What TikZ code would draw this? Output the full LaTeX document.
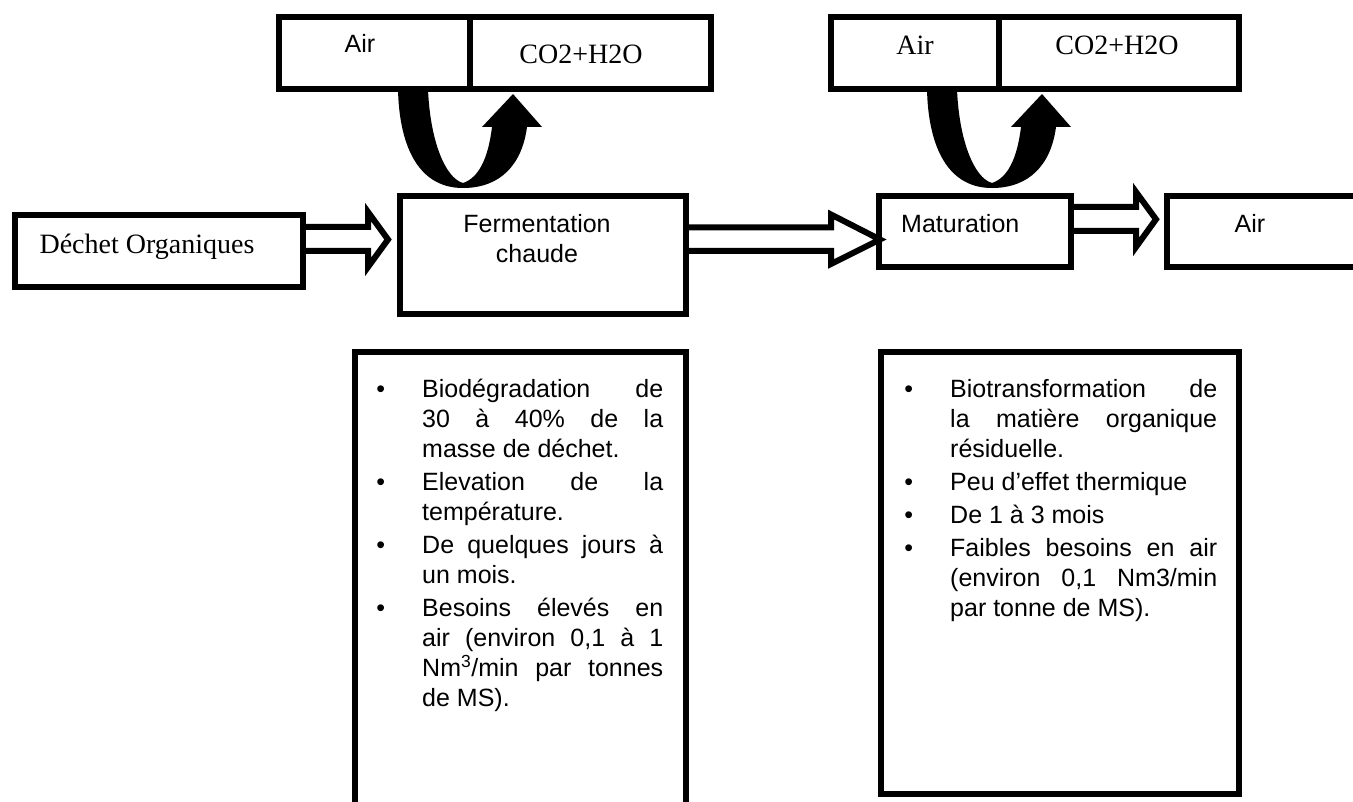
\documentclass[tikz,border=0pt]{standalone}
\usepackage{fontspec}
\setmainfont{Liberation Serif}
\setsansfont{Liberation Sans}
\usetikzlibrary{calc}

% puce des listes
\newcommand{\puce}{\par\noindent\llap{\textbullet\hspace{37pt}}}

\begin{document}
\begin{tikzpicture}[x=1pt, y=1pt,
    cell/.style={draw, line width=6pt, outer sep=0pt, inner sep=0pt},
    blockarrow/.style={draw, line width=6pt, line join=miter},
    loopfill/.style={fill=black},
    sanslbl/.style={font=\sffamily\fontsize{25pt}{30pt}\selectfont, inner sep=0pt},
    seriflbl/.style={font=\rmfamily\fontsize{28pt}{33pt}\selectfont, inner sep=0pt},
    notes/.style={font=\sffamily\fontsize{25pt}{30pt}\selectfont, inner sep=0pt, align=justify, anchor=north west}]
  \useasboundingbox (0,0) rectangle (1353,-802);
  % boites du haut
  \node[cell, minimum width=191pt, minimum height=71.5pt] (air1) at (374.5,-53.25) {};
  \node[cell, minimum width=241pt, minimum height=71.5pt] (gas1) at (590.5,-53.25) {};
  \node[cell, minimum width=168pt, minimum height=71.5pt] (air2) at (915,-53.25) {};
  \node[cell, minimum width=240pt, minimum height=71.5pt] (gas2) at (1119,-53.25) {};
  \node[sanslbl, anchor=base] (tair1) at (360,-53) {Air};
  \node[seriflbl, anchor=base] (tgas1) at (581,-64) {CO2+H2O};
  \node[seriflbl, anchor=base] (tair2) at (915,-55) {Air};
  \node[seriflbl, anchor=base] (tgas2) at (1117,-55) {CO2+H2O};
  % etapes du procede
  \node[cell, minimum width=287.5pt, minimum height=71.2pt] (dechet) at (158.75,-251.1) {};
  \node[cell, minimum width=286pt, minimum height=118.5pt] (ferm) at (543,-255.25) {};
  \node[cell, minimum width=192pt, minimum height=71.5pt] (matur) at (975,-231.75) {};
  \node[cell, minimum width=213pt, minimum height=71.5pt] (airout) at (1273.5,-231.75) {};
  \node[seriflbl, anchor=base] (tdechet) at (147,-253.3) {Déchet Organiques};
  \node[sanslbl, align=center, anchor=north] (tferm) at (537,-212.7) {\rule{0pt}{20pt}Fermentation\\chaude};
  \node[sanslbl, anchor=base west] (tmatur) at (901,-232.7) {Maturation};
  \node[sanslbl, anchor=base] (tairout) at (1250,-232.7) {Air};
  % fleches creuses
  \draw[blockarrow] let \p1=(dechet.east), \p2=(ferm.west) in
    (\x1,-227) -- (\x2-32,-227) -- (\x2-32,-212) -- (\x2-12,-239.5) -- (\x2-32,-267) -- (\x2-32,-251) -- (\x1,-251);
  \draw[blockarrow] let \p1=(ferm.east), \p2=(matur.west) in
    (\x1,-227.5) -- (\x2-48,-227.5) -- (\x2-48,-214.5) -- (\x2+1,-239.5) -- (\x2-48,-264) -- (\x2-48,-251) -- (\x1,-251);
  \draw[blockarrow] let \p1=(matur.east), \p2=(airout.west) in
    (\x1,-207) -- (\x2-31,-207) -- (\x2-31,-192) -- (\x2-11,-219.3) -- (\x2-31,-247) -- (\x2-31,-231) -- (\x1,-231);
  % fleches courbes (air entrant / gaz sortant)
  \foreach \dx in {0,529}{
    \fill[loopfill, xshift=\dx pt] (398,-89) .. controls (399,-140) and (415,-188) .. (463,-188)
      .. controls (500,-188) and (522,-165) .. (527,-127) -- (542,-127) -- (513,-94) -- (482,-127) -- (492,-127)
      .. controls (488,-160) and (478,-178) .. (463,-183)
      .. controls (445,-178) and (430,-140) .. (428,-89) -- cycle;
  }
  % cadres des commentaires
  \node[cell, minimum width=331pt, minimum height=478pt] (note1) at (520.5,-591) {};
  \node[cell, minimum width=358.5pt, minimum height=441.5pt] (note2) at (1059.75,-572.75) {};
  \node[notes, text width=241pt] (txt1) at (422,-364) {%
    \tolerance=10000 \hbadness=10000 \hyphenpenalty=10000 \parskip=3pt
    \puce\rule{0pt}{26pt}Biodégradation de \linebreak 30 à 40\% de la \linebreak masse de déchet.
    \puce Elevation de la \linebreak température.
    \puce De quelques jours à \linebreak un mois.
    \puce Besoins élevés en \linebreak air (environ 0,1 à 1 \linebreak Nm\textsuperscript{3}/min par tonnes \linebreak de MS).\par};
  \node[notes, text width=267pt] (txt2) at (950,-364) {%
    \tolerance=10000 \hbadness=10000 \hyphenpenalty=10000 \parskip=3pt
    \puce\rule{0pt}{26pt}Biotransformation de \linebreak la matière organique \linebreak résiduelle.
    \puce Peu d’effet thermique
    \puce De 1 à 3 mois
    \puce Faibles besoins en air \linebreak (environ 0,1 Nm3/min \linebreak par tonne de MS).\par};
\end{tikzpicture}
\end{document}
